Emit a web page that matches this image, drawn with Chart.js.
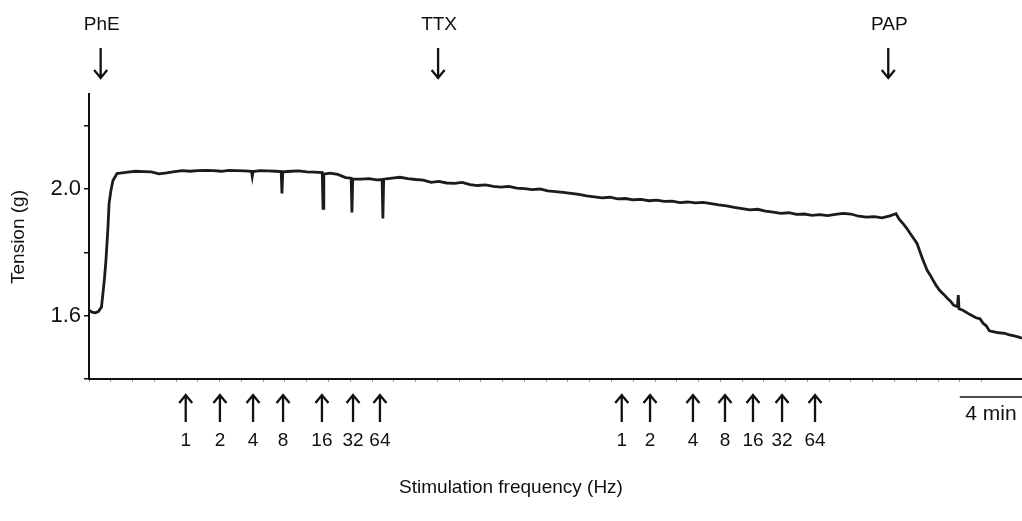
<!DOCTYPE html>
<html>
<head>
<meta charset="utf-8">
<script src="https://cdn.jsdelivr.net/npm/chart.js@4"></script>
<style>
  html, body { margin: 0; padding: 0; background: #fff; }
  #wrap { width: 1022px; height: 521px; }
</style>
</head>
<body>
<div id="wrap"><canvas id="myChart" width="1022" height="521"></canvas></div>
<script>
// tempo em minutos
const times = [
    0, 0.2, 0.4, 0.6, 0.8, 0.9, 1.0, 1.09, 1.22, 1.29, 1.41, 1.54, 1.8,
    2.0, 2.5, 3.0, 3.5, 4.0, 4.5, 5.0, 5.5, 6.0, 6.5, 7.0, 7.5, 8.0, 8.5, 9.0, 9.5, 10.0,
    10.45, 10.5, 10.55, 11.0, 11.5, 12.0, 12.36, 12.41, 12.46, 13.0, 13.5, 14.0, 14.5, 15.0, 15.05, 15.1,
    15.5, 16.0, 16.5, 16.86, 16.91, 16.96, 17.5, 18.0, 18.5, 18.85, 18.9, 18.95,
    19.5, 20.0, 20.5, 21.0, 21.5, 22.0, 22.5, 23.0, 23.5, 24.0, 24.5, 25.0, 25.5, 26.0,
    26.5, 27.0, 27.5, 28.0, 28.5, 29.0, 29.5, 30.0, 30.5, 31.0, 31.5, 32.0, 32.5, 33.0,
    33.5, 34.0, 34.5, 35.0, 35.5, 36.0, 36.5, 37.0, 37.5, 38.0, 38.5, 39.0, 39.5, 40.0,
    40.5, 41.0, 41.5, 42.0, 42.5, 43.0, 43.5, 44.0, 44.5, 45.0, 45.5, 46.0, 46.5, 47.0,
    47.5, 48.0, 48.5, 49.0, 49.5, 50.0, 50.5, 51.0, 51.5, 51.9,
    52.1, 52.35, 52.6, 52.8, 53.0, 53.25, 53.45, 53.6, 53.9, 54.1, 54.3, 54.5, 54.7, 54.95,
    55.2, 55.4, 55.6, 55.85, 55.9, 55.95, 56.2, 56.5, 56.8, 57.0, 57.3, 57.5, 57.7, 57.9,
    58.2, 58.5, 58.9, 59.2, 59.5, 59.8, 60
]
// tensão (g)
const tension = [
    1.617, 1.611, 1.609, 1.613, 1.627, 1.671, 1.72, 1.775, 1.879, 1.954, 1.995, 2.027, 2.049,
    2.050, 2.053, 2.056, 2.055, 2.054, 2.048, 2.051, 2.055, 2.058, 2.056, 2.058, 2.059, 2.058, 2.056, 2.059, 2.058, 2.057,
    2.056, 2.040, 2.055, 2.058, 2.057, 2.056, 2.055, 1.986, 2.054, 2.056, 2.057, 2.054, 2.053, 2.052, 1.939, 2.047,
    2.050, 2.046, 2.036, 2.034, 1.926, 2.032, 2.031, 2.033, 2.029, 2.030, 1.907, 2.031,
    2.034, 2.037, 2.033, 2.030, 2.028, 2.021, 2.024, 2.019, 2.018, 2.021, 2.014, 2.011, 2.013, 2.008,
    2.006, 2.008, 2.003, 2.001, 1.998, 2.000, 1.994, 1.992, 1.989, 1.986, 1.983, 1.978, 1.975, 1.972,
    1.974, 1.969, 1.970, 1.966, 1.967, 1.963, 1.965, 1.961, 1.962, 1.957, 1.959, 1.956, 1.958, 1.954,
    1.950, 1.947, 1.942, 1.938, 1.934, 1.936, 1.930, 1.927, 1.923, 1.925, 1.920, 1.921, 1.917, 1.919,
    1.916, 1.920, 1.923, 1.921, 1.914, 1.911, 1.913, 1.909, 1.915, 1.922,
    1.905, 1.891, 1.875, 1.860, 1.846, 1.828, 1.800, 1.780, 1.743, 1.728, 1.710, 1.694, 1.680, 1.668,
    1.655, 1.646, 1.633, 1.628, 1.665, 1.622, 1.617, 1.608, 1.600, 1.594, 1.590, 1.576, 1.568, 1.552,
    1.549, 1.546, 1.544, 1.539, 1.536, 1.532, 1.529
]

const yTicks = [1.4, 1.6, 1.8, 2.0, 2.2]
const yLabels = ['1.6', '2.0']

const drugs = ['PhE', 'TTX', 'PAP']
const drugTimes = [0.75, 22.45, 51.4]

const freqLabels = ['1', '2', '4', '8', '16', '32', '64']
const stimTimes1 = [6.22, 8.42, 10.55, 12.48, 14.98, 16.98, 18.71]
const stimTimes2 = [34.26, 36.08, 38.84, 40.9, 42.7, 44.57, 46.69]

const FAMILY = '"Liberation Sans", Arial, sans-serif'
const INK = '#111'

function drawArrow(ctx, x, yTail, yTip) {
    const dir = yTip > yTail ? -1 : 1
    ctx.beginPath()
    ctx.moveTo(x, yTail)
    ctx.lineTo(x, yTip)
    ctx.moveTo(x - 6.5, yTip + dir * 8)
    ctx.lineTo(x, yTip)
    ctx.lineTo(x + 6.5, yTip + dir * 8)
    ctx.stroke()
}

// textos e setas em volta do traçado
const annotations = {
    id: 'annotations',
    afterDraw(chart) {
        const ctx = chart.ctx
        const xs = chart.scales.x
        ctx.save()
        ctx.fillStyle = INK
        ctx.strokeStyle = INK
        ctx.lineWidth = 2.3
        ctx.font = '19px ' + FAMILY
        ctx.textAlign = 'center'
        ctx.textBaseline = 'middle'

        drugs.forEach((d, i) => {
            const px = xs.getPixelForValue(drugTimes[i])
            ctx.fillText(d, px + 1, 25)
            drawArrow(ctx, px, 48, 78)
        })

        const stim = (list) => list.forEach((t, i) => {
            const px = xs.getPixelForValue(t)
            drawArrow(ctx, px, 422, 395)
            ctx.fillText(freqLabels[i], px, 441)
        })
        stim(stimTimes1)
        stim(stimTimes2)

        ctx.fillText('Stimulation frequency (Hz)', 511, 488)

        // barra de escala 4 min
        const b0 = xs.getPixelForValue(56)
        const b1 = xs.getPixelForValue(60)
        ctx.lineWidth = 1.5
        ctx.beginPath()
        ctx.moveTo(b0, 397)
        ctx.lineTo(b1, 397)
        ctx.stroke()
        ctx.font = '21px ' + FAMILY
        ctx.fillText('4 min', (b0 + b1) / 2, 414)

        ctx.font = '19px ' + FAMILY
        ctx.translate(19, 237)
        ctx.rotate(-Math.PI / 2)
        ctx.fillText('Tension (g)', 0, 0)
        ctx.restore()
    }
}

const data = {
    datasets: [{
        label: 'Tension',
        data: times.map((t, i) => ({ x: t, y: tension[i] })),
        borderColor: '#1c1a1b',
        borderWidth: 2.8,
        pointRadius: 0,
        tension: 0,
        fill: false
    }]
}

const config = {
    type: 'line',
    data: data,
    options: {
        responsive: false,
        animation: false,
        devicePixelRatio: 1,
        layout: { padding: { top: 94, left: 0, right: 0, bottom: 0 } },
        plugins: { legend: { display: false }, tooltip: { enabled: false } },
        scales: {
            x: {
                type: 'linear',
                min: 0,
                max: 60,
                afterFit(s) { s.height = 142 },
                ticks: { display: false, stepSize: 1.4 },
                grid: { drawOnChartArea: false, tickLength: 3, color: '#999', lineWidth: 1 },
                border: { color: INK, width: 2 }
            },
            y: {
                min: 1.4,
                max: 2.3,
                afterFit(s) { s.width = 89 },
                afterBuildTicks(s) { s.ticks = yTicks.map(v => ({ value: v })) },
                ticks: {
                    callback: v => yLabels.includes(v.toFixed(1)) ? v.toFixed(1) : '',
                    color: INK,
                    padding: 3,
                    font: { size: 22, family: FAMILY }
                },
                grid: { drawOnChartArea: false, tickLength: 5, color: INK, lineWidth: 1.5 },
                border: { color: INK, width: 2 }
            }
        }
    },
    plugins: [annotations]
}

const myChart = new Chart(document.getElementById('myChart'), config)
</script>
</body>
</html>
